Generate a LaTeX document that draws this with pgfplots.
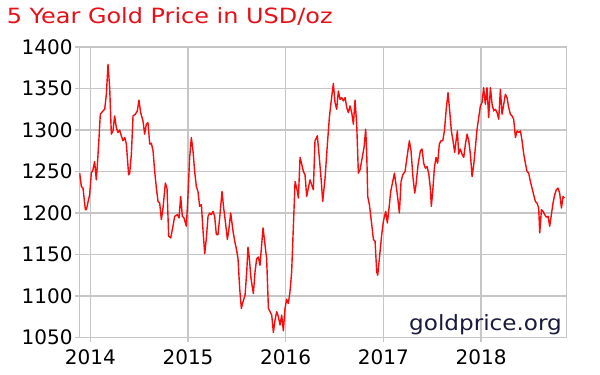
\documentclass[border=0pt]{standalone}
\usepackage{fontspec}
\setmainfont{DejaVu Sans}
\newfontfamily\titlefont[FakeStretch=1.14]{DejaVu Sans}
\newfontfamily\markfont[FakeStretch=1.10]{DejaVu Sans}
\usepackage{pgfplots}
\usepackage{pgfplotstable}
\pgfplotsset{compat=1.18}
\definecolor{gridgray}{RGB}{198,198,198}
\definecolor{linered}{RGB}{250,10,10}
\definecolor{titlered}{RGB}{232,16,24}
\definecolor{navy}{RGB}{26,26,60}
\pgfplotstableread{
x y
2013.891 1248
2013.908 1232
2013.925 1230
2013.949 1204
2013.959 1204
2013.993 1222
2014.010 1248
2014.027 1252
2014.044 1262
2014.061 1240
2014.072 1258
2014.085 1283
2014.102 1319
2014.130 1323
2014.147 1325
2014.164 1343
2014.181 1379
2014.198 1351
2014.215 1295
2014.232 1299
2014.249 1317
2014.266 1303
2014.283 1297
2014.300 1300
2014.317 1293
2014.334 1287
2014.352 1291
2014.369 1283
2014.392 1246
2014.403 1248
2014.420 1271
2014.437 1317
2014.461 1319
2014.481 1323
2014.498 1336
2014.515 1321
2014.539 1311
2014.556 1295
2014.573 1307
2014.590 1309
2014.608 1283
2014.625 1284
2014.642 1275
2014.659 1250
2014.676 1230
2014.693 1214
2014.710 1212
2014.727 1192
2014.744 1206
2014.768 1236
2014.785 1230
2014.802 1172
2014.823 1170
2014.846 1184
2014.863 1196
2014.891 1198
2014.908 1194
2014.925 1220
2014.942 1196
2014.959 1194
2014.983 1184
2015.000 1222
2015.017 1267
2015.034 1291
2015.051 1275
2015.068 1250
2015.085 1232
2015.102 1226
2015.119 1208
2015.137 1210
2015.154 1178
2015.171 1151
2015.188 1170
2015.205 1196
2015.222 1200
2015.239 1198
2015.256 1202
2015.273 1196
2015.290 1174
2015.307 1174
2015.324 1194
2015.348 1226
2015.365 1206
2015.386 1186
2015.403 1168
2015.416 1178
2015.437 1200
2015.461 1178
2015.478 1166
2015.495 1157
2015.512 1145
2015.529 1109
2015.546 1085
2015.563 1093
2015.584 1101
2015.601 1129
2015.614 1159
2015.628 1145
2015.645 1121
2015.669 1103
2015.686 1129
2015.703 1145
2015.720 1147
2015.737 1137
2015.754 1162
2015.768 1182
2015.788 1162
2015.805 1145
2015.823 1085
2015.840 1081
2015.857 1077
2015.874 1056
2015.891 1071
2015.908 1081
2015.925 1075
2015.942 1065
2015.959 1077
2015.976 1058
2015.993 1085
2016.010 1096
2016.027 1091
2016.044 1105
2016.061 1129
2016.078 1182
2016.096 1238
2016.113 1230
2016.130 1218
2016.147 1267
2016.164 1259
2016.181 1250
2016.198 1246
2016.215 1220
2016.232 1230
2016.249 1240
2016.266 1234
2016.283 1228
2016.300 1287
2016.324 1293
2016.341 1271
2016.362 1242
2016.379 1214
2016.403 1242
2016.427 1283
2016.447 1315
2016.464 1333
2016.488 1356
2016.505 1333
2016.522 1325
2016.539 1347
2016.556 1337
2016.573 1339
2016.590 1335
2016.608 1339
2016.625 1327
2016.642 1321
2016.659 1329
2016.676 1321
2016.693 1307
2016.710 1336
2016.727 1307
2016.744 1248
2016.761 1252
2016.778 1263
2016.802 1279
2016.819 1301
2016.829 1275
2016.840 1220
2016.857 1210
2016.881 1186
2016.898 1168
2016.915 1166
2016.932 1129
2016.942 1125
2016.959 1145
2016.983 1174
2017.000 1190
2017.024 1202
2017.041 1188
2017.058 1206
2017.075 1226
2017.096 1238
2017.113 1248
2017.130 1234
2017.147 1218
2017.164 1200
2017.181 1238
2017.198 1246
2017.222 1250
2017.242 1267
2017.266 1287
2017.283 1275
2017.304 1242
2017.321 1224
2017.334 1234
2017.355 1258
2017.379 1275
2017.396 1277
2017.413 1260
2017.430 1254
2017.447 1256
2017.464 1248
2017.481 1230
2017.491 1208
2017.505 1226
2017.522 1254
2017.539 1267
2017.556 1260
2017.573 1283
2017.590 1287
2017.608 1287
2017.625 1299
2017.642 1323
2017.662 1345
2017.679 1323
2017.696 1299
2017.713 1287
2017.730 1273
2017.744 1287
2017.758 1299
2017.771 1271
2017.788 1277
2017.805 1271
2017.823 1267
2017.840 1283
2017.857 1295
2017.874 1287
2017.891 1271
2017.908 1244
2017.925 1258
2017.942 1279
2017.959 1301
2017.976 1315
2017.993 1329
2018.010 1333
2018.027 1351
2018.044 1331
2018.061 1351
2018.078 1315
2018.096 1351
2018.113 1331
2018.130 1323
2018.147 1325
2018.164 1321
2018.181 1313
2018.198 1349
2018.215 1319
2018.232 1331
2018.249 1343
2018.266 1339
2018.283 1327
2018.300 1319
2018.317 1317
2018.334 1313
2018.352 1291
2018.369 1299
2018.386 1297
2018.403 1299
2018.420 1287
2018.437 1271
2018.454 1260
2018.471 1250
2018.488 1248
2018.505 1238
2018.522 1230
2018.539 1222
2018.556 1214
2018.573 1212
2018.590 1206
2018.601 1176
2018.618 1204
2018.635 1202
2018.652 1198
2018.669 1195
2018.686 1196
2018.703 1184
2018.720 1198
2018.737 1212
2018.754 1222
2018.771 1228
2018.788 1230
2018.805 1224
2018.823 1206
2018.840 1220
2018.853 1218
}\gold
\begin{document}
\begin{tikzpicture}
\path[use as bounding box] (0pt,0pt) rectangle (600pt,375pt);
\begin{axis}[
  at={(79.3pt,37.5pt)}, anchor=south west,
  scale only axis, width=487.4pt, height=290.5pt,
  xmin=2013.887, xmax=2018.877, ymin=1050, ymax=1400,
  xtick={2014,2015,2016,2017,2018},
  xticklabels={2014,2015,2016,2017,2018},
  ytick={1050,1100,1150,1200,1250,1300,1350,1400},
  yticklabels={1050,1100,1150,1200,1250,1300,1350,1400},
  scaled ticks=false,
  grid=major,
  major grid style={gridgray, line width=1.2pt},
  axis line style={gridgray, line width=1.2pt},
  tick style={gridgray, line width=1.2pt},
  tick align=outside, major tick length=4pt,
  xtick pos=left, ytick pos=left,
  ticklabel style={font=\fontsize{20}{24}\selectfont, inner sep=0pt, text=black},
  xticklabel style={yshift=-8pt},
  yticklabel style={xshift=-2.6pt},
]
\addplot[linered, line width=1.4pt, line join=round, no markers] table[x=x,y=y] {\gold};
\end{axis}
\node[anchor=base east, inner sep=0pt, text=navy, font=\markfont\fontsize{21}{25}\selectfont] at (562pt,44pt) {goldprice.org};
\node[anchor=base west, inner sep=0pt, text=titlered, font=\titlefont\fontsize{21}{25}\selectfont] at (6.7pt,351pt) {5 Year Gold Price in USD/oz};
\end{tikzpicture}
\end{document}
